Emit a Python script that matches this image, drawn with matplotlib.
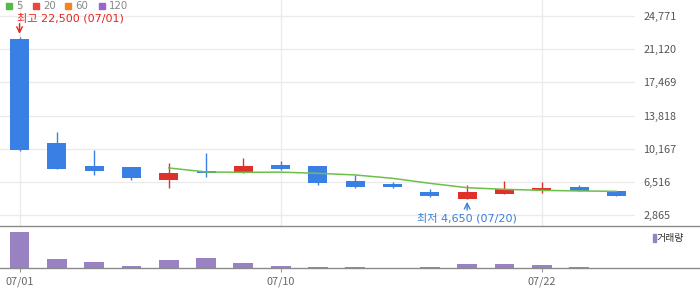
import matplotlib
matplotlib.use('Agg')
import matplotlib.pyplot as plt
from matplotlib.lines import Line2D
from matplotlib.patches import Rectangle
import numpy as np

plt.rcParams['font.family'] = ['Noto Sans CJK KR', 'DejaVu Sans']
MIXED = ['DejaVu Sans', 'Noto Sans CJK KR']

# daily candles (KRW)
dates = ['07/01', '07/02', '07/03', '07/06', '07/07', '07/08', '07/09', '07/10', '07/13',
         '07/14', '07/16', '07/17', '07/20', '07/21', '07/22', '07/23', '07/24']
opens = [22250, 10820, 8290, 8180, 6780, 7740, 7550, 8430, 8320,
         6640, 6310, 5430, 4700, 5240, 5610, 5980, 5540]
highs = [22500, 12030, 10050, 8180, 8620, 9720, 9170, 8840, 8320,
         7300, 6490, 5760, 6200, 6640, 6530, 6200, 5540]
lows = [9970, 7990, 7330, 6780, 5900, 7110, 7550, 7850, 6230,
        5870, 5870, 4910, 4650, 5240, 5350, 5540, 5020]
closes = [10080, 7990, 7770, 7000, 7520, 7520, 8290, 7990, 6450,
          5980, 5980, 5020, 5430, 5760, 5870, 5540, 5020]
ma5 = [np.nan, np.nan, np.nan, np.nan, 8070, 7630, 7590, 7610, 7480,
       7300, 6930, 6380, 5900, 5720, 5610, 5540, 5500]
volume = [367, 97, 67, 25, 87, 103, 53, 25, 13, 13, 0, 13, 43, 43, 33, 13, 0]

y_ticks = [2865, 6516, 10167, 13818, 17469, 21120, 24771]
date_ticks = [0, 7, 14]

legend_names = ['5', '20', '60', '120']
legend_colors = ['#55b848', '#ee4444', '#f6841f', '#9966cc']

UP = '#e0302a'
DOWN = '#3a80e4'
W, H = 700, 289


def fx(px):
    return px / W


def fy(py):
    return 1 - py / H


fig = plt.figure(figsize=(7, 2.89), dpi=100)
ax = fig.add_axes([0, fy(225.7), fx(635), 225.7 / H])
axv = fig.add_axes([0, fy(268.3), fx(635), 42.6 / H])

x = np.arange(len(opens))
for a in (ax, axv):
    a.set_xlim(-0.523, 16.50)
    for s in a.spines.values():
        s.set_visible(False)

# candles
for i in x:
    o, h, l, c = opens[i], highs[i], lows[i], closes[i]
    col = UP if c > o else DOWN
    ax.vlines(i, l, h, color=col, lw=1.0, zorder=3)
    ax.bar(i, max(abs(c - o), 60), bottom=min(o, c), width=0.51, color=col, zorder=4)

ax.plot(x, ma5, color='#6cc04a', lw=1.1, zorder=5)

ax.set_ylim(1722, 26530)
ax.set_yticks(y_ticks)
ax.set_yticklabels([f'{v:,}' for v in y_ticks])
ax.yaxis.tick_right()
ax.tick_params(axis='y', length=0, pad=6, labelsize=7.8, labelcolor='#555555')
ax.set_xticks(date_ticks)
ax.tick_params(axis='x', length=0, labelbottom=False)
ax.grid(True, color='#ebebeb', lw=1.0, zorder=0)
ax.set_axisbelow(True)

# high / low markers
hi = int(np.argmax(highs))
lo = int(np.argmin(lows))
ax.annotate('', xy=(hi, highs[hi]), xytext=(0, 13), textcoords='offset pixels',
            xycoords='data', arrowprops=dict(arrowstyle='->', color='#e8231e', lw=1,
                                             shrinkA=0, shrinkB=2))
ax.annotate(f'최고 {highs[hi]:,} ({dates[hi]})', xy=(hi, highs[hi]), xytext=(-3, 18.5),
            textcoords='offset pixels', ha='left', va='center', fontsize=8,
            color='#e8231e', annotation_clip=False, family=MIXED)
ax.annotate('', xy=(lo, lows[lo]), xytext=(0, -11), textcoords='offset pixels',
            arrowprops=dict(arrowstyle='->', color='#3a7fd9', lw=1, shrinkA=0, shrinkB=2))
ax.annotate(f'최저 {lows[lo]:,} ({dates[lo]})', xy=(lo, lows[lo]), xytext=(0, -19.5),
            textcoords='offset pixels', ha='center', va='center', fontsize=8,
            color='#3a7fd9', annotation_clip=False, family=MIXED)

# volume
axv.bar(x, volume, width=0.53, color='#9882c2', zorder=3)
axv.set_ylim(0, 426)
axv.set_yticks([])
axv.set_xticks(date_ticks)
axv.set_xticklabels([dates[i] for i in date_ticks])
axv.tick_params(axis='x', direction='out', length=3, width=0.8, color='#999999',
                pad=3, labelsize=7.8, labelcolor='#666666')

# panel border lines
for py in (225.7, 268.3):
    fig.add_artist(Line2D([0, 1], [fy(py), fy(py)], transform=fig.transFigure,
                          color='#8a8a8a', lw=1.0))

# volume legend
fig.add_artist(Rectangle((fx(653), fy(242)), fx(2.5), 8 / H, transform=fig.transFigure,
                         color='#9882c2'))
fig.text(fx(657), fy(238), '거래량', fontsize=7.2, color='#333333', va='center', ha='left')

# moving average legend
lx = [6, 33, 65, 99]
for px, name, col in zip(lx, legend_names, legend_colors):
    fig.add_artist(Rectangle((fx(px), fy(8.7)), fx(6), 6 / H, transform=fig.transFigure,
                             color=col))
    fig.text(fx(px + 10), fy(5.8), name, fontsize=7.4, color='#888888', va='center',
             ha='left', family='DejaVu Sans')

fig.savefig('out.png', dpi=100)
